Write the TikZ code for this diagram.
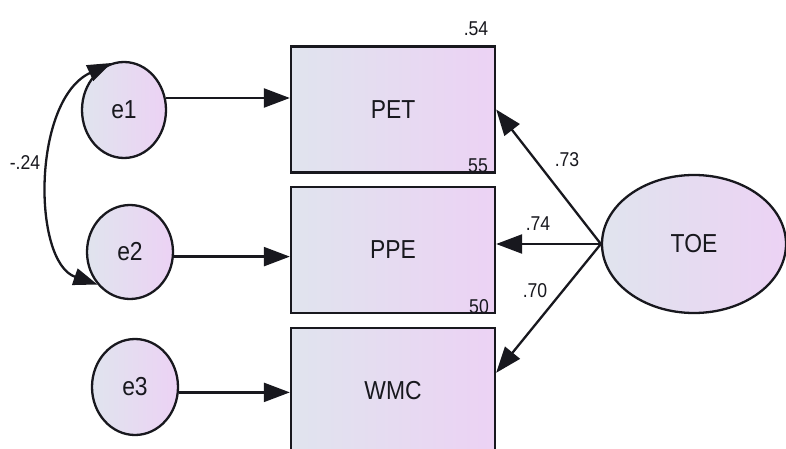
\documentclass[tikz,border=0pt]{standalone}
\usepackage{fontspec}
\setmainfont{Liberation Sans}
\usetikzlibrary{shapes.geometric,arrows.meta}
\definecolor{shadeL}{HTML}{E0E4EE}
\definecolor{shadeR}{HTML}{ECD2F4}
\definecolor{ink}{HTML}{18181E}
% slightly narrowed lettering
\newcommand{\narrowtxt}[1]{\scalebox{0.88}[1]{#1}}
\begin{document}
\begin{tikzpicture}[x=1pt,y=-1pt,
  obs/.style={rectangle, draw=ink, line width=2.3pt, left color=shadeL, right color=shadeR,
    minimum width=204pt, minimum height=126pt, inner sep=0pt,
    font=\fontsize{26}{26}\selectfont, text=ink},
  lat/.style={ellipse, draw=ink, line width=2.3pt, left color=shadeL, right color=shadeR,
    inner sep=0pt, font=\fontsize{26}{26}\selectfont, text=ink},
  arr/.style={draw=ink, line width=2.3pt, -{Triangle[length=26pt,width=19pt]}},
  cov/.style={draw=ink, line width=2.3pt, {Triangle[length=24pt,width=17pt]}-{Triangle[length=24pt,width=17pt]}},
  coef/.style={font=\fontsize{20}{20}\selectfont, inner sep=0pt, text=ink}
]
\useasboundingbox (0,0) rectangle (786,449);
\fill[white] (0,0) rectangle (786,449);

% observed variables
\node[obs] (PET) at (393,109.5) {\narrowtxt{PET}};
\node[obs] (PPE) at (393,250) {\narrowtxt{PPE}};
\node[obs] (WMC) at (393,391) {\narrowtxt{WMC}};

% error terms
\node[lat, minimum width=84pt, minimum height=96pt] (e1) at (124,110) {\narrowtxt{e1}};
\node[lat, minimum width=86pt, minimum height=94pt] (e2) at (130,252) {\narrowtxt{e2}};
\node[lat, minimum width=86pt, minimum height=96pt] (e3) at (135,387) {\narrowtxt{e3}};

% latent factor
\node[lat, minimum width=184pt, minimum height=138pt] (TOE) at (694,244) {\narrowtxt{TOE}};

% error paths
\draw[arr] (e1.16) -- (e1.16 -| PET.west);
\draw[arr] (e2.-6) -- (e2.-6 -| PPE.west);
\draw[arr] (e3.-7) -- (e3.-7 -| WMC.west);

% loadings
\draw[arr] (TOE.west) -- (PET.east);
\draw[arr] (TOE.west) -- (TOE.west -| PPE.east);
\draw[arr] (TOE.west) -- (WMC.10);

% error covariance
\draw[cov] (e2.225) .. controls (32,262) and (32,100) .. (e1.105);

% estimates
\node[coef] (r54) at (476,29) {\narrowtxt{.54}};
\node[coef] (r55) at (478,166) {\narrowtxt{55}};
\node[coef] (r50) at (479,307) {\narrowtxt{50}};
\node[coef] (l73) at (567,160) {\narrowtxt{.73}};
\node[coef] (l74) at (538,224) {\narrowtxt{.74}};
\node[coef] (l70) at (535,291) {\narrowtxt{.70}};
\node[coef] (c24) at (25,163) {\narrowtxt{-.24}};
\end{tikzpicture}
\end{document}
